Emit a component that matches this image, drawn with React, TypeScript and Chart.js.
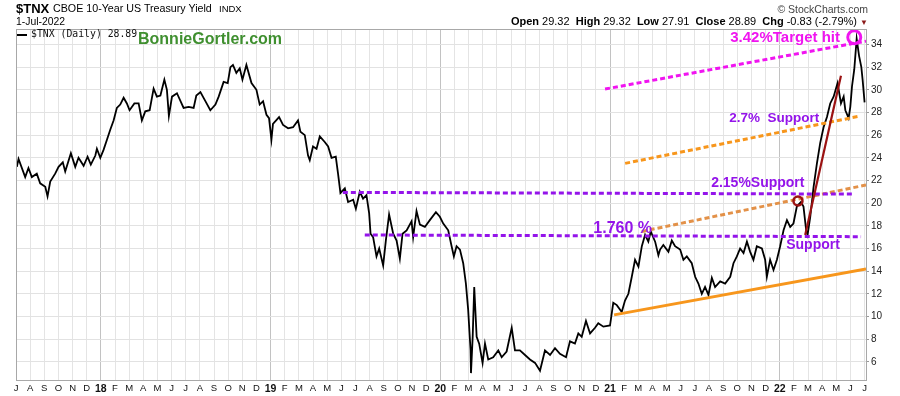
import React, { useEffect, useRef } from "react";
import { Chart, registerables } from "chart.js";

Chart.register(...registerables);

const FONT = '"Liberation Sans", Arial, sans-serif';
const MONO = '"DejaVu Sans Mono", monospace';

// Months since 1-Jul-2017 (x) and 10-yr yield x10 (y)
const monthPos = [
  0.06, 0.18, 0.65, 0.88, 1.12, 1.47, 1.71, 2.07, 2.23, 2.42, 2.77, 3.01, 3.31, 3.48, 3.88, 4.19, 4.42, 4.78, 5.06, 5.29,
  5.61, 5.72, 5.96, 6.19, 6.43, 6.67, 6.9, 7.13, 7.37, 7.61, 7.84, 8.03, 8.37, 8.67, 8.9, 9.14, 9.45, 9.73, 9.96, 10.21,
  10.49, 10.67, 10.81, 11.03, 11.38, 11.85, 12.21, 12.56, 12.75, 13.04, 13.39, 13.74, 14.1, 14.33, 14.68, 14.97, 15.16,
  15.34, 15.58, 15.82, 16.01, 16.29, 16.65, 17.0, 17.23, 17.47, 17.71, 17.89, 18.06, 18.17, 18.6, 18.88, 19.24, 19.59,
  19.94, 20.11, 20.42, 20.65, 20.77, 21.0, 21.25, 21.48, 21.83, 22.07, 22.31, 22.61, 22.77, 22.94, 23.25, 23.48, 23.84,
  24.03, 24.31, 24.54, 24.78, 24.97, 25.07, 25.25, 25.49, 25.68, 25.96, 26.15, 26.38, 26.67, 26.91, 27.14, 27.33, 27.62,
  27.97, 28.08, 28.32, 28.56, 28.91, 29.26, 29.69, 29.97, 30.21, 30.56,
  30.8, 30.96, 31.15, 31.39, 31.62, 31.81, 31.97, 32.14, 32.17, 32.29, 32.4, 32.57, 32.75, 32.99, 33.16, 33.39, 33.74,
  34.1, 34.34, 34.69, 35.05, 35.28, 35.63, 35.99, 36.34, 36.7, 37.05, 37.4, 37.76, 38.11, 38.46, 38.89, 39.17, 39.52,
  39.76, 40.0, 40.3, 40.59, 40.94, 41.17, 41.53, 42.0, 42.23, 42.48, 42.83, 43.06, 43.3, 43.54, 43.77, 44.01, 44.25,
  44.48, 44.71, 44.88, 45.19, 45.42,
  45.54, 45.77, 46.13, 46.37, 46.6, 46.96, 47.19, 47.43, 47.78, 48.02, 48.25, 48.49, 48.72, 48.96, 49.2, 49.43, 49.79,
  50.14, 50.5, 50.73, 50.97, 51.2, 51.44, 51.68, 51.91, 52.14, 52.38, 52.74, 52.97, 53.09, 53.32, 53.56, 53.8, 54.03,
  54.27, 54.51, 54.74, 54.97, 55.21, 55.5, 55.68, 55.87, 55.97, 56.16, 56.39, 56.63, 56.86, 57.1, 57.34, 57.57, 57.81,
  58.09, 58.33, 58.52, 58.64, 58.87, 58.99, 59.11, 59.27, 59.44, 59.61, 59.77, 59.86, 60.0,
];
const yieldVals = [
  23.2, 23.9, 22.3, 23.1, 22.3, 22.6, 21.75, 21.45, 20.6, 21.9, 22.6, 23.2, 23.6, 22.8, 24.4, 23.2, 24.0, 23.3, 24.1, 23.4,
  24.2, 24.8, 24.0, 24.7, 25.6, 26.5, 27.3, 28.4, 28.7, 29.3, 28.8, 28.2, 28.8, 28.8, 27.3, 28.1, 28.2, 30.1, 29.4, 29.5,
  30.9, 30.0, 27.7, 29.4, 29.7, 28.4, 28.5, 28.4, 29.5, 29.8, 29.0, 28.2, 28.7, 29.4, 30.7, 30.6, 32.0,
  32.2, 31.5, 31.9, 30.9, 32.2, 30.6, 30.0, 28.7, 29.0, 27.8, 27.5, 25.6, 27.0, 27.6, 26.9, 26.6, 26.7,
  27.3, 26.3, 26.0, 24.2, 23.8, 25.0, 24.8, 25.9, 25.4, 25.0, 24.0, 24.1, 22.6, 20.9, 21.3, 20.1, 20.3,
  19.5, 21.0, 20.4, 20.7, 19.1, 17.3, 17.0, 15.3, 16.0, 14.5, 16.7, 19.0, 17.3, 16.7, 15.1, 17.3, 17.6,
  18.4, 17.0, 19.3, 18.1, 17.9, 18.5, 19.2, 18.8, 18.2, 17.6,
  16.2, 15.3, 16.2, 15.9, 14.7, 12.9, 10.6, 7.0, 5.0, 8.2, 12.6, 8.2, 7.6, 5.9, 7.6, 6.2, 6.4,
  7.0, 6.4, 6.9, 9.0, 7.0, 7.0, 6.6, 6.2, 5.9, 5.2, 7.0, 6.6, 7.2, 6.7, 6.4, 7.8, 7.6,
  8.5, 8.2, 9.6, 8.5, 9.0, 9.4, 9.1, 9.2, 11.2, 11.0, 10.4, 11.4, 12.0, 13.5, 15.0, 14.4, 16.2,
  17.2, 16.6, 17.5, 16.6, 15.4,
  15.9, 16.3, 15.7, 16.7, 16.2, 15.9, 15.0, 15.3, 14.7, 13.5, 12.9, 12.0, 12.6, 11.9, 13.4, 12.6, 13.1,
  12.9, 13.5, 14.7, 15.3, 16.0, 15.6, 16.6, 15.7, 15.0, 16.2, 16.0, 15.0, 13.5, 15.0, 14.1, 15.0, 16.2,
  17.6, 18.5, 17.9, 18.2, 19.7, 20.1, 19.7, 17.6, 17.2, 18.8, 21.4, 23.5, 25.3, 26.7, 27.6, 28.8, 29.4,
  30.6, 28.8, 29.4, 28.2, 27.5, 28.5, 30.3, 31.8, 34.5, 33.0, 32.0, 30.9, 28.89,
];

// Drawn trend / support lines (two end points each, in months / yield units)
const targetLineX = [41.65, 60.1];
const targetLineY = [30.07, 34.3];
const support27X = [43.07, 59.7];
const support27Y = [23.51, 27.69];
const support215X = [23.11, 59.13];
const support215Y = [20.95, 20.8];
const support176X = [24.66, 59.75];
const support176Y = [17.19, 17.04];
const channelX = [44.25, 60.1];
const channelY = [17.5, 21.6];
const baseTrendX = [42.29, 60.1];
const baseTrendY = [10.14, 14.19];
const rallyX = [55.8, 58.33];
const rallyY = [17.19, 31.25];
const targetCircleX = [59.27];
const targetCircleY = [34.64];
const breakoutCircleX = [55.29];
const breakoutCircleY = [20.19];

// Annotation texts and their anchors (left x, baseline y)
const noteTexts = ["3.42%Target hit", "2.7%  Support", "2.15%Support", "1.760 %", "Support"];
const noteX = [50.5, 50.43, 49.15, 40.82, 54.46];
const noteY = [34.22, 27.16, 21.45, 17.36, 15.92];

// Axis ticks
const monthLetters = ["J", "F", "M", "A", "M", "J", "J", "A", "S", "O", "N", "D"];
const xTickValues = Array.from({ length: 61 }, (_, i) => i);
const yTickValues = [6, 8, 10, 12, 14, 16, 18, 20, 22, 24, 26, 28, 30, 32, 34];

const MAGENTA = "#f014f0";
const PURPLE = "#9414ea";
const ORANGE = "#f7961c";
const ORANGE2 = "#e39148";
const DARKRED = "#9b1212";

const isYear = (v: number) => (((v + 6) % 12) + 12) % 12 === 0;
const xLabel = (v: number) => {
  const idx = (v + 6) % 12;
  if (idx === 0) return String((2017 + Math.floor((v + 6) / 12)) % 100);
  return monthLetters[idx];
};

const pts = (xs: number[], ys: number[]) => xs.map((x, i) => ({ x, y: ys[i] }));

const noteStyles = [
  { font: `bold 15px ${FONT}`, color: MAGENTA },
  { font: `bold 13.5px ${FONT}`, color: PURPLE },
  { font: `bold 14px ${FONT}`, color: PURPLE },
  { font: `bold 16px ${FONT}`, color: PURPLE },
  { font: `bold 14px ${FONT}`, color: PURPLE },
];

const overlayPlugin = {
  id: "overlay",
  afterDatasetsDraw(chart: any) {
    const { ctx, scales } = chart;
    const xs = scales.x;
    const ys = scales.y;
    ctx.save();
    ctx.textAlign = "left";
    ctx.textBaseline = "alphabetic";
    noteTexts.forEach((t, i) => {
      ctx.font = noteStyles[i].font;
      ctx.fillStyle = noteStyles[i].color;
      ctx.fillText(t, xs.getPixelForValue(noteX[i]), ys.getPixelForValue(noteY[i]));
    });
    ctx.restore();
  },
  afterDraw(chart: any) {
    const { ctx, chartArea } = chart;
    ctx.save();
    ctx.strokeStyle = "#a8a8a8";
    ctx.lineWidth = 1;
    ctx.strokeRect(
      Math.round(chartArea.left) + 0.5,
      Math.round(chartArea.top) + 0.5,
      Math.round(chartArea.right - chartArea.left),
      Math.round(chartArea.bottom - chartArea.top)
    );
    ctx.restore();
  },
};

export default function App() {
  const ref = useRef<HTMLCanvasElement>(null);

  useEffect(() => {
    const dashed = (data: any, color: string, dash: number[], width = 3) => ({
      data,
      borderColor: color,
      borderWidth: width,
      borderDash: dash,
      pointRadius: 0,
      fill: false,
      order: 0,
    });
    const chart = new Chart(ref.current as HTMLCanvasElement, {
      type: "line",
      data: {
        datasets: [
          {
            data: pts(targetCircleX, targetCircleY),
            showLine: false,
            pointRadius: 6.5,
            pointBorderWidth: 3,
            pointBorderColor: MAGENTA,
            pointBackgroundColor: "rgba(0,0,0,0)",
            clip: false,
            order: 0,
          } as any,
          {
            data: pts(breakoutCircleX, breakoutCircleY),
            showLine: false,
            pointRadius: 4.5,
            pointBorderWidth: 2.5,
            pointBorderColor: DARKRED,
            pointBackgroundColor: "rgba(0,0,0,0)",
            order: 0,
          } as any,
          dashed(pts(rallyX, rallyY), DARKRED, [], 2.2),
          dashed(pts(targetLineX, targetLineY), MAGENTA, [5, 3]),
          dashed(pts(support27X, support27Y), ORANGE, [5, 3]),
          dashed(pts(support215X, support215Y), PURPLE, [5, 3]),
          dashed(pts(support176X, support176Y), PURPLE, [5, 3]),
          dashed(pts(channelX, channelY), ORANGE2, [5, 3]),
          dashed(pts(baseTrendX, baseTrendY), ORANGE, [], 3),
          {
            data: pts(monthPos, yieldVals),
            borderColor: "#000",
            borderWidth: 1.8,
            pointRadius: 0,
            tension: 0,
            order: 1,
          } as any,
        ],
      },
      options: {
        animation: false,
        responsive: false,
        events: [],
        layout: { padding: { left: 16, top: 29, right: 0, bottom: 0 } },
        plugins: { legend: { display: false }, tooltip: { enabled: false } },
        elements: { line: { tension: 0 }, point: { radius: 0 } },
        scales: {
          x: {
            type: "linear",
            min: 0,
            max: 60.1,
            afterBuildTicks: (s: any) => {
              s.ticks = xTickValues.map((v) => ({ value: v }));
            },
            afterFit: (s: any) => {
              s.height = 16;
            },
            border: { display: false },
            grid: {
              drawTicks: false,
              color: (c: any) => (c.tick && isYear(c.tick.value) ? "#c2c2c2" : "#e4e4e4"),
            },
            ticks: {
              autoSkip: false,
              maxRotation: 0,
              minRotation: 0,
              padding: 3,
              color: "#111",
              font: (c: any) =>
                c.tick && isYear(c.tick.value)
                  ? { family: FONT, size: 10.5, weight: "bold" }
                  : { family: FONT, size: 9.5, weight: "normal" },
              callback: (v: any) => xLabel(Number(v)),
            },
          },
          y: {
            type: "linear",
            position: "right",
            min: 4.39,
            max: 35.37,
            afterBuildTicks: (s: any) => {
              s.ticks = yTickValues.map((v) => ({ value: v }));
            },
            afterFit: (s: any) => {
              s.width = 34;
            },
            border: { display: false },
            grid: { color: "#e2e2e2", tickLength: 3, tickColor: "#999" },
            ticks: {
              padding: 2,
              color: "#222",
              font: { family: FONT, size: 10 },
            },
          },
        },
      } as any,
      plugins: [overlayPlugin],
    });
    return () => chart.destroy();
  }, []);

  const abs = (s: any) => ({ position: "absolute", whiteSpace: "pre", lineHeight: 1, fontFamily: FONT, color: "#000", ...s });

  return (
    <div style={{ position: "absolute", left: 0, top: 0, width: 900, height: 396, background: "#fff", overflow: "hidden" }}>
      <canvas ref={ref} width={900} height={396} style={{ display: "block", width: 900, height: 396 }} />
      <div style={abs({ left: 16, top: 1.7, fontSize: 13, fontWeight: "bold" })}>$TNX</div>
      <div style={abs({ left: 53, top: 3.2, fontSize: 10.7 })}>CBOE 10-Year US Treasury Yield</div>
      <div style={abs({ left: 219, top: 4.3, fontSize: 9.5 })}>INDX</div>
      <div style={abs({ left: 16, top: 17.2, fontSize: 10.4 })}>1-Jul-2022</div>
      <div style={abs({ right: 32, top: 3.6, fontSize: 10.5, color: "#444" })}>© StockCharts.com</div>
      <div style={abs({ right: 32, top: 16.2, fontSize: 11 })}>
        <b>Open</b> 29.32  <b>High</b> 29.32  <b>Low</b> 27.91  <b>Close</b> 28.89  <b>Chg</b> -0.83 (-2.79%){" "}
        <span style={{ color: "#8b1a1a", fontSize: 8 }}>▼</span>
      </div>
      <div style={{ position: "absolute", left: 17, top: 34, width: 10, height: 2, background: "#000" }} />
      <div style={abs({ left: 31, top: 29.3, fontSize: 9.8, fontFamily: MONO, color: "#111" })}>$TNX (Daily) 28.89</div>
      <div style={abs({ left: 138, top: 30.8, fontSize: 16, fontWeight: "bold", color: "#3f8f2f" })}>BonnieGortler.com</div>
    </div>
  );
}
